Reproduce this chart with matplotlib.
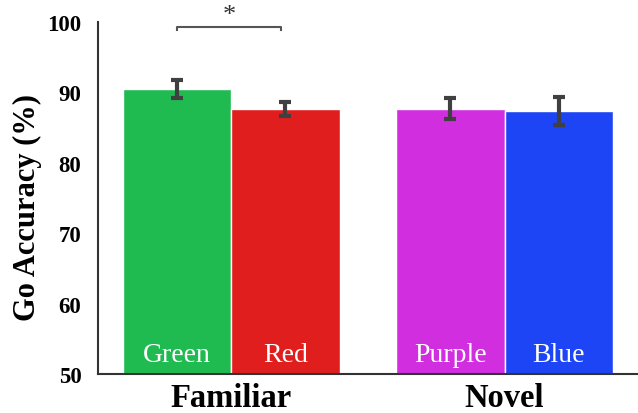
import matplotlib
matplotlib.use('agg')
import matplotlib.pyplot as plt

# data
groups = ["Familiar", "Novel"]
labels = ["Green", "Red", "Purple", "Blue"]
values = [90.5, 87.7, 87.7, 87.4]
errors = [1.25, 1.0, 1.5, 2.0]
colors = ["#1fbb50", "#e01e1e", "#d12ee0", "#1d45f5"]

plt.rcParams['font.family'] = ['Liberation Serif', 'DejaVu Serif']

w = 1.0
gap = 0.52
pos = [0, 1, 2 + gap, 3 + gap]

fig = plt.figure(figsize=(6.38, 4.14), dpi=100)
ax = fig.add_axes([0.1536, 0.0942, 0.8464, 0.8502])

ax.bar(pos, [v - 50 for v in values], bottom=50, width=w, color=colors,
       edgecolor='white', linewidth=1)
ax.errorbar(pos, values, yerr=errors, fmt='none', ecolor='#404040',
            elinewidth=3, capsize=4, capthick=3)

for p, lab in zip(pos, labels):
    ax.text(p, 52.8, lab, ha='center', va='center', color='white', fontsize=20)

ax.set_ylim(50, 100)
ax.set_xlim(-0.728, 4.25)
ax.set_yticks([50, 60, 70, 80, 90, 100])
ax.tick_params(axis='y', length=0, pad=12, labelsize=16.5)
for t in ax.get_yticklabels():
    t.set_fontweight('bold')
ax.set_xticks([(pos[0] + pos[1]) / 2, (pos[2] + pos[3]) / 2])
ax.set_xticklabels(groups, fontsize=23.5, fontweight='bold')
ax.tick_params(axis='x', length=0, pad=6)
ax.set_ylabel("Go Accuracy (%)", fontsize=22, fontweight='bold')
ax.yaxis.set_label_coords(-0.103, 0.477)

for s in ['top', 'right']:
    ax.spines[s].set_visible(False)
for s in ['left', 'bottom']:
    ax.spines[s].set_color('#333333')
    ax.spines[s].set_linewidth(1.5)

# significance bracket
yb = 99.3
ax.plot([pos[0], pos[0], pos[1] - 0.04, pos[1] - 0.04], [yb - 0.5, yb, yb, yb - 0.5],
        color='#555555', lw=1.5, clip_on=False)
ax.text((pos[0] + pos[1] - 0.04) / 2, 101.0, "*", ha='center', va='center',
        fontsize=19, color='#333333', clip_on=False)

fig.savefig('out.png', dpi=100)
